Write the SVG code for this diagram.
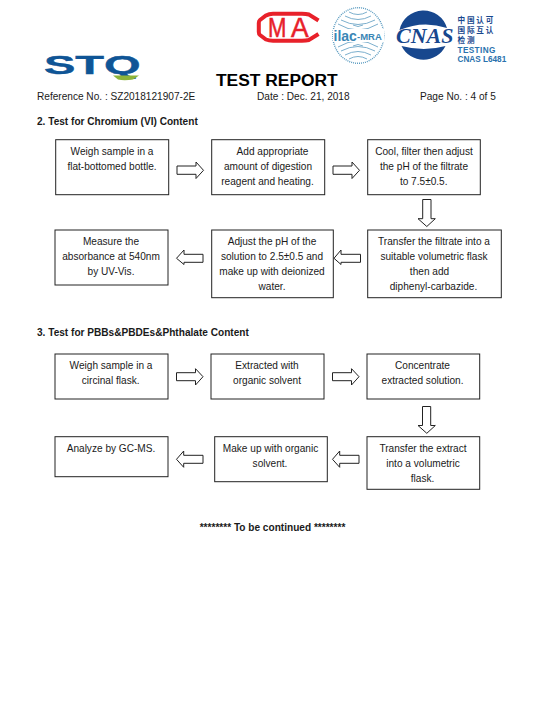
<svg xmlns="http://www.w3.org/2000/svg" width="543" height="706" viewBox="0 0 543 706">
<style>
text{font-family:"Liberation Sans",Arial,sans-serif;fill:#1a1a1a}
.t{font-size:10.1px;text-anchor:middle}
.h{font-size:10.1px}
.b{font-size:10.1px;font-weight:bold}
.box{fill:#fff;stroke:#222;stroke-width:1}
.arr{fill:#fff;stroke:#222;stroke-width:1}
.cj{font-size:7.600px;font-weight:bold;fill:#17478e;font-family:"Noto Sans CJK SC",sans-serif;letter-spacing:1.800px}
.ct{font-size:8.200px;font-weight:bold;fill:#2a72ad}
</style>
<rect width="543" height="706" fill="#fff"/>
<g id="logo-stq">
<text x="44" y="74.500" style="font-size:25px;font-weight:bold;fill:#0f5596;stroke:#0f5596;stroke-width:0.4" transform="translate(44 74.500) scale(1.88 1) translate(-44 -74.500)">STQ</text>
<path d="M113 75.500H139L133 79.500Q124 81 118 79.500Z" fill="#8cb43a"/>
</g>
<g id="logo-cma">
<path d="M318.500 20.500L309 14.500Q306 13.700 302 13.700H273Q269 13.700 266 15.500L260 20Q258.800 21 258.800 23V32Q258.800 34 260 35L266 39.500Q269 40.700 273 40.700H302Q306 40.700 309 40L318.500 34" fill="none" stroke="#e8212a" stroke-width="4"/>
<text x="268" y="37" style="font-size:27px;fill:#e8212a;stroke:#e8212a;stroke-width:.5" transform="translate(268 37) scale(.82 1) translate(-268 -37)">M</text>
<text x="291" y="37" style="font-size:27px;fill:#e8212a;stroke:#e8212a;stroke-width:.5" transform="translate(291 37) scale(.98 1) translate(-291 -37)">A</text>
</g>
<g id="logo-ilac" fill="none" stroke="#5a9bc0" stroke-width="0.800">
<ellipse cx="358.300" cy="35.500" rx="25.500" ry="27.800" stroke-dasharray="1 1" stroke-width="1.400"/>
<path d="M338 24q20 12 40 0M341 20q17 9 34 0M345 16q13 7 26 0M349 12q9 5 18 0M338 47q20-12 40 0M341 51q17-9 34 0M345 55q13-7 26 0M349 59q9-5 18 0M353 25q5 3 10 0M353 46q5-3 10 0"/>
<rect x="333" y="29" width="51" height="13" fill="#fff" stroke="none"/>
<text x="333.500" y="40.500" style="font-size:14px;font-weight:bold;fill:#3a86b5;stroke:none">ilac</text>
<text x="357" y="40" style="font-size:9.500px;font-weight:bold;fill:#3a86b5;stroke:none">-MRA</text>
</g>
<g id="logo-cnas">
<path d="M399.500 30A24.500 24.500 0 0 1 447 28Q423 20 399.500 30Z" fill="#17478e"/>
<path d="M401.500 46Q424 52 445.500 46A24.500 24.500 0 0 1 401.500 46Z" fill="#17478e"/>
<text x="396" y="43" style="font-size:22px;font-weight:bold;font-style:italic;fill:#17478e;font-family:'Liberation Serif',serif">CNAS</text>
<text x="457.500" y="22.500" class="cj">中国认可</text>
<text x="457.500" y="33" class="cj">国际互认</text>
<text x="457.500" y="43" class="cj">检测</text>
<text x="457.500" y="53" class="ct" style="letter-spacing:.4px">TESTING</text>
<text x="457.500" y="61.500" class="ct">CNAS L6481</text>
</g>
<g id="header">
<text x="216" y="85.500" style="font-size:17.400px;font-weight:bold;fill:#000">TEST REPORT</text>
<text x="37" y="100" class="h">Reference No. : SZ2018121907-2E</text>
<text x="257" y="100" class="h">Date : Dec. 21, 2018</text>
<text x="420" y="100" class="h">Page No. : 4 of 5</text>
<text x="37" y="125" class="b">2. Test for Chromium (VI) Content</text>
<text x="37" y="336" class="b">3. Test for PBBs&amp;PBDEs&amp;Phthalate Content</text>
<text x="272.500" y="531" class="b" text-anchor="middle">******** To be continued ********</text>
</g>
<g id="connectors">
<path class="arr" d="M177 166H196V162L203.500 170.300L196 178.500V174.300H177Z"/>
<path class="arr" d="M333 166H352V162L359.500 170.300L352 178.500V174.300H333Z"/>
<path class="arr" d="M422.700 199.500H431V218.700H435.300L426.800 226.500L418 218.700H422.700Z"/>
<path class="arr" d="M360.500 254.300H341V250L334 258.300L341 264.500V262.300H360.500Z"/>
<path class="arr" d="M203 254.300H184V250L176.500 258.300L184 264.500V262.300H203Z"/>
<path class="arr" d="M176.500 372.700H195.500V368.700L203 376.700L195.500 385V380.700H176.500Z"/>
<path class="arr" d="M332.500 372.700H351.500V368.700L359 376.700L351.500 385V380.700H332.500Z"/>
<path class="arr" d="M422.500 406.500H430.700V425.500H435.300L426.800 433.300L418 425.500H422.500Z"/>
<path class="arr" d="M359 455.300H339.700V451L332.500 459.300L339.700 467.300V463.300H359Z"/>
<path class="arr" d="M203 455.300H183.700V451L176.500 459.300L183.700 467.300V463.300H203Z"/>
</g>
<g id="n1"><rect class="box" x="55.700" y="139.700" width="113" height="55"/><text class="t" x="112" y="155">Weigh sample in a</text><text class="t" x="112" y="170">flat-bottomed bottle.</text></g>
<g id="n2"><rect class="box" x="211.700" y="139.700" width="113" height="55"/><text class="t" x="272.500" y="155">Add appropriate</text><text class="t" x="268" y="170">amount of digestion</text><text class="t" x="267.500" y="185">reagent and heating.</text></g>
<g id="n3"><rect class="box" x="367.700" y="139.700" width="112.600" height="55"/><text class="t" x="424" y="155">Cool, filter then adjust</text><text class="t" x="424" y="170">the pH of the filtrate</text><text class="t" x="423.700" y="185">to 7.5±0.5.</text></g>
<g id="n4"><rect class="box" x="367.700" y="230" width="133.600" height="67.700"/><text class="t" x="434" y="245">Transfer the filtrate into a</text><text class="t" x="434" y="260">suitable volumetric flask</text><text class="t" x="429.500" y="275">then add</text><text class="t" x="433.500" y="290">diphenyl-carbazide.</text></g>
<g id="n5"><rect class="box" x="211.700" y="230" width="121.600" height="67.700"/><text class="t" x="272" y="245">Adjust the pH of the</text><text class="t" x="272" y="260">solution to 2.5±0.5 and</text><text class="t" x="272" y="275">make up with deionized</text><text class="t" x="272" y="290">water.</text></g>
<g id="n6"><rect class="box" x="55" y="230" width="113" height="55"/><text class="t" x="111" y="245">Measure the</text><text class="t" x="111" y="260">absorbance at 540nm</text><text class="t" x="111" y="275">by UV-Vis.</text></g>
<g id="m1"><rect class="box" x="55" y="354" width="113" height="45"/><text class="t" x="111" y="369">Weigh sample in a</text><text class="t" x="110.700" y="384">circinal flask.</text></g>
<g id="m2"><rect class="box" x="211" y="354" width="113" height="45"/><text class="t" x="267" y="369">Extracted with</text><text class="t" x="267" y="384">organic solvent</text></g>
<g id="m3"><rect class="box" x="367" y="354" width="112.700" height="45"/><text class="t" x="422.500" y="369">Concentrate</text><text class="t" x="422.500" y="384">extracted solution.</text></g>
<g id="m4"><rect class="box" x="367" y="436.700" width="112.700" height="52.600"/><text class="t" x="423" y="452">Transfer the extract</text><text class="t" x="423" y="467">into a volumetric</text><text class="t" x="422.500" y="482">flask.</text></g>
<g id="m5"><rect class="box" x="214.700" y="436.700" width="112.600" height="45"/><text class="t" x="270.500" y="452">Make up with organic</text><text class="t" x="270" y="467">solvent.</text></g>
<g id="m6"><rect class="box" x="55" y="436.700" width="113" height="40"/><text class="t" x="111" y="452">Analyze by GC-MS.</text></g>
</svg>
